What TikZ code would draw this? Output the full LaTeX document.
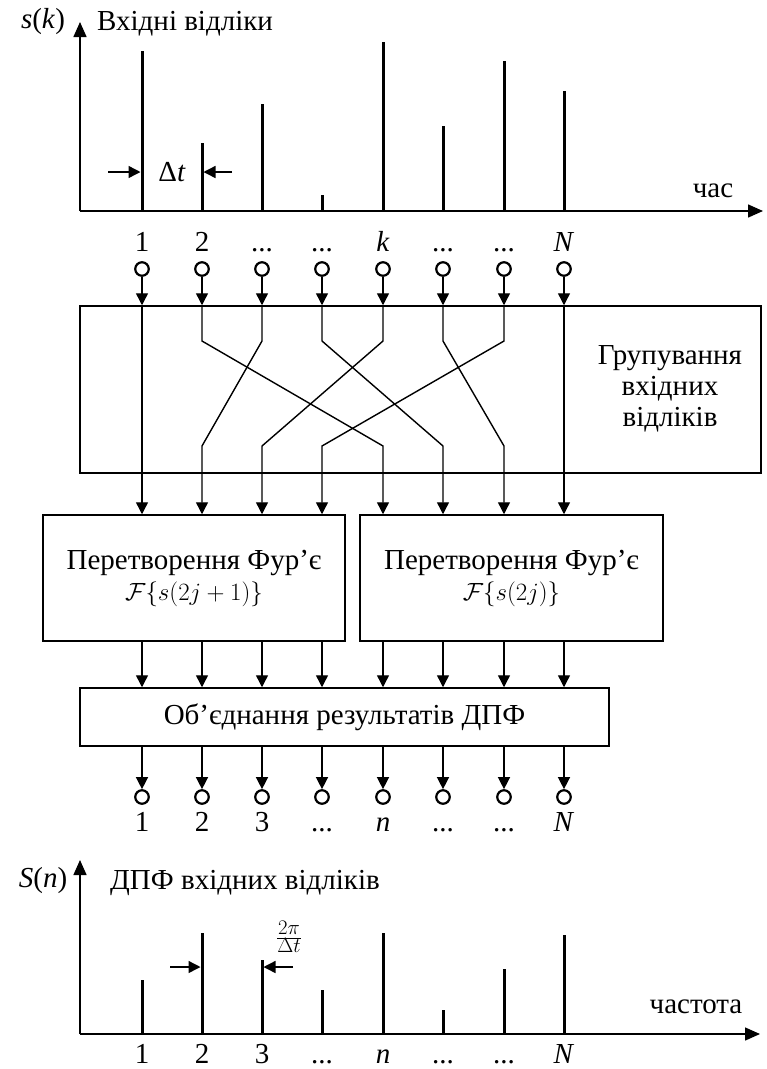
\documentclass[tikz,border=0pt]{standalone}
\usepackage[no-math]{fontspec}
\setmainfont{Liberation Serif}
\usetikzlibrary{arrows.meta}
\newcommand{\mydots}{...}
\begin{document}
\begin{tikzpicture}[x=1pt,y=-1pt,
  font=\fontsize{29}{31}\selectfont,
  ln/.style={line width=1.4pt},
  arr/.style={ln,-{Triangle[length=12pt,width=12pt]}},
  axarr/.style={line width=1.5pt,-{Triangle[length=15pt,width=13pt]}},
  stem/.style={line width=3pt},
  box/.style={draw,line width=1.5pt,rectangle,inner sep=0pt,align=center},
  port/.style={circle,draw,line width=2.2pt,minimum size=13.5pt,inner sep=0pt},
  lab/.style={anchor=base,inner sep=0pt}]
\useasboundingbox (0,0) rectangle (767,1069);

% ---------- top plot ----------
\coordinate (O1) at (80,211);
\coordinate (Y1) at (80,22);
\coordinate (X1) at (763,211);
\draw[axarr] (O1) -- (Y1);
\draw[axarr] (O1) -- (X1);
\foreach \x/\h in {142/51,202/143,262/104,322/195,383/42,443/126,504/61,564/91}
  \draw[stem] (\x,211) -- (\x,\h);
\coordinate (dtA) at (108,172);
\coordinate (dtB) at (140.5,172);
\coordinate (dtC) at (232,172);
\coordinate (dtD) at (203.5,172);
\draw[arr] (dtA) -- (dtB);
\draw[arr] (dtC) -- (dtD);
\node (dt) at (172,172) {Δ\textit{t}};
\node[lab] (sk) at (43,28) {\textit{s}(\textit{k})};
\node[anchor=base west,inner sep=0pt] (ttl1) at (97,30) {Вхідні відліки};
\node[lab] (tm) at (713,197) {час};

% ---------- input labels and ports ----------
\foreach \i/\x/\t in {1/142/1,2/202/2,3/262/\mydots,4/322/\mydots,5/383/\textit{k},6/443/\mydots,7/504/\mydots,8/564/\textit{N}}{
  \node[lab] (li\i) at (\x,251) {\t};
  \node[port] (i\i) at (\x,269) {};
  \coordinate (bt\i) at (\x,341);
  \coordinate (bb\i) at (\x,446);
}

% ---------- grouping box ----------
\node[box,minimum width=681pt,minimum height=167pt] (grp) at (420.5,389.5) {};
\node[align=center,inner sep=0pt] (grpt) at (670,389) {Групування\\вхідних\\відліків};

% ---------- Fourier boxes ----------
\node[box,minimum width=302pt,minimum height=126pt] (f1) at (194,578)
  {Перетворення Фур’є\\$\mathcal{F}\{s(2j+1)\}$};
\node[box,minimum width=303pt,minimum height=126pt] (f2) at (511.5,578)
  {Перетворення Фур’є\\$\mathcal{F}\{s(2j)\}$};

\foreach \i in {1,...,8}
  \draw[arr] (i\i) -- (grp.north -| i\i);

\draw[arr] (grp.north -| i1) -- (f1.north -| i1);
\draw[arr] (grp.north -| i2) -- (bt2) -- (bb5) -- (f2.north -| bb5);
\draw[arr] (grp.north -| i3) -- (bt3) -- (bb2) -- (f1.north -| bb2);
\draw[arr] (grp.north -| i4) -- (bt4) -- (bb6) -- (f2.north -| bb6);
\draw[arr] (grp.north -| i5) -- (bt5) -- (bb3) -- (f1.north -| bb3);
\draw[arr] (grp.north -| i6) -- (bt6) -- (bb7) -- (f2.north -| bb7);
\draw[arr] (grp.north -| i7) -- (bt7) -- (bb4) -- (f1.north -| bb4);
\draw[arr] (grp.north -| i8) -- (f2.north -| i8);

% ---------- combining box ----------
\node[box,minimum width=529pt,minimum height=58pt] (cmb) at (344.5,717)
  {Об’єднання результатів ДПФ};
\foreach \i in {1,2,3,4}
  \draw[arr] (f1.south -| i\i) -- (cmb.north -| i\i);
\foreach \i in {5,6,7,8}
  \draw[arr] (f2.south -| i\i) -- (cmb.north -| i\i);

% ---------- outputs ----------
\foreach \i/\x/\t in {1/142/1,2/202/2,3/262/3,4/322/\mydots,5/383/\textit{n},6/443/\mydots,7/504/\mydots,8/564/\textit{N}}{
  \node[port] (o\i) at (\x,797) {};
  \node[lab] (lo\i) at (\x,831) {\t};
  \draw[arr] (cmb.south -| o\i) -- (o\i.north);
}

% ---------- bottom plot ----------
\coordinate (O2) at (80,1034);
\coordinate (Y2) at (80,860);
\coordinate (X2) at (760,1034);
\draw[axarr] (O2) -- (Y2);
\draw[axarr] (O2) -- (X2);
\foreach \x/\h in {142/980,202/933,262/960,322/990,383/933,443/1010,504/969,564/935}
  \draw[stem] (\x,1034) -- (\x,\h);
\coordinate (fA) at (170,967);
\coordinate (fB) at (200.5,967);
\coordinate (fC) at (293,967);
\coordinate (fD) at (263.5,967);
\draw[arr] (fA) -- (fB);
\draw[arr] (fC) -- (fD);
\node[inner sep=0pt] (fr) at (289,937) {$\frac{2\pi}{\Delta t}$};
\node[lab] (Sn) at (43,887) {\textit{S}(\textit{n})};
\node[anchor=base west,inner sep=0pt] (ttl2) at (110,889) {ДПФ вхідних відліків};
\node[lab] (fq) at (696,1013) {частота};
\foreach \i/\x/\t in {1/142/1,2/202/2,3/262/3,4/322/\mydots,5/383/\textit{n},6/443/\mydots,7/504/\mydots,8/564/\textit{N}}
  \node[lab] (lb\i) at (\x,1063) {\t};
\end{tikzpicture}
\end{document}
